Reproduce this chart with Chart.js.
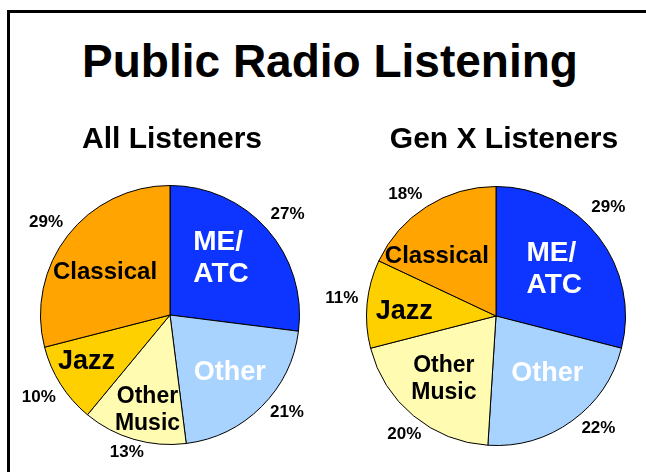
<!DOCTYPE html>
<html>
<head>
<meta charset="utf-8">
<script src="https://cdn.jsdelivr.net/npm/chart.js@4"></script>
<style>
    html, body { margin: 0; padding: 0; background: #fff; overflow: hidden; }
    #page { position: relative; width: 646px; height: 472px; overflow: hidden; background: #fff; }
    .rule { position: absolute; background: #000; }
    #ruleTop { left: 7px; top: 10px; width: 639px; height: 3px; }
    #ruleLeft { left: 7px; top: 10px; width: 3px; height: 462px; }
    #mainTitle {
        position: absolute; left: 7px; top: 38px; width: 646px; text-align: center; white-space: nowrap;
        font: bold 46px "Liberation Sans", Arial, Helvetica, sans-serif; line-height: 46px; color: #000;
    }
    canvas { position: absolute; top: 110px; }
    #allChart { left: 0; }
    #genxChart { left: 323px; }
</style>
</head>
<body>
<div id="page">
    <div class="rule" id="ruleTop"></div>
    <div class="rule" id="ruleLeft"></div>
    <div id="mainTitle">Public Radio Listening</div>
    <canvas id="allChart" width="323" height="362"></canvas>
    <canvas id="genxChart" width="323" height="362"></canvas>
</div>
<script>
const categories = ["ME/ATC", "Other", "Other Music", "Jazz", "Classical"];
const sliceLabels = [["ME/", "ATC"], ["Other"], ["Other", "Music"], ["Jazz"], ["Classical"]];
const allListeners = [27, 21, 13, 10, 29];
const genXListeners = [29, 22, 20, 11, 18];
const chartTitles = ["All Listeners", "Gen X Listeners"];

const sliceColors = ["#0D35FF", "#A9D3FF", "#FFFBB1", "#FFD000", "#FFA400"];
const FONT = '"Liberation Sans", Arial, Helvetica, sans-serif';

// per category text look
const labelLook = [
    { color: "#fff", size: 28, lineGap: 32, align: "left" },
    { color: "#fff", size: 27, lineGap: 0, align: "center" },
    { color: "#000", size: 23, lineGap: 27.5, align: "center" },
    { color: "#000", size: 27, lineGap: 0, align: "center" },
    { color: "#000", size: 24, lineGap: 0, align: "center" }
];

// label placement relative to each arc (radius fraction, degree shift from mid angle)
const placeAll = {
    inner: [0.60, 0.63, 0.74, 0.73, 0.61], innerShift: [-7.6, -2.2, -2.6, 4.4, -3.1],
    outer: [1.205, 1.167, 1.098, 1.189, 1.2], outerShift: [0.3, -5.7, 1.5, 0.8, -0.7],
    titleDx: 2
};
const placeGenX = {
    inner: [0.59, 0.58, 0.62, 0.71, 0.66], innerShift: [-2.5, -7.1, 0.9, -1.4, -11.4],
    outer: [1.212, 1.164, 1.145, 1.199, 1.183], outerShift: [-6.5, -6.8, -1.4, 1.6, -3.9],
    titleDx: 8
};

const pieText = {
    id: "pieText",
    afterDatasetsDraw(chart, args, opts) {
        const ctx = chart.ctx;
        const place = opts.place;
        const values = chart.data.datasets[0].data;
        const meta = chart.getDatasetMeta(0);
        ctx.save();
        meta.data.forEach((arc, i) => {
            const { x, y, startAngle, endAngle, outerRadius } = arc.getProps(["x", "y", "startAngle", "endAngle", "outerRadius"], true);
            const mid = (startAngle + endAngle) / 2;

            // label inside the slice
            const look = labelLook[i];
            const a1 = mid + place.innerShift[i] * Math.PI / 180;
            const cx = x + Math.cos(a1) * outerRadius * place.inner[i];
            const cy = y + Math.sin(a1) * outerRadius * place.inner[i];
            const lines = sliceLabels[i];
            ctx.font = "bold " + look.size + "px " + FONT;
            ctx.fillStyle = look.color;
            ctx.textBaseline = "alphabetic";
            const widest = Math.max(...lines.map(l => ctx.measureText(l).width));
            let by = cy + 0.358 * look.size - (lines.length - 1) * look.lineGap / 2;
            lines.forEach(line => {
                if (look.align === "left") {
                    ctx.textAlign = "left";
                    ctx.fillText(line, cx - widest / 2, by);
                } else {
                    ctx.textAlign = "center";
                    ctx.fillText(line, cx, by);
                }
                by += look.lineGap;
            });

            // percentage outside
            const a2 = mid + place.outerShift[i] * Math.PI / 180;
            const px = x + Math.cos(a2) * outerRadius * place.outer[i];
            const py = y + Math.sin(a2) * outerRadius * place.outer[i];
            ctx.font = "bold 17px " + FONT;
            ctx.fillStyle = "#000";
            ctx.textAlign = "center";
            ctx.fillText(values[i] + "%", px, py + 0.358 * 17);
        });

        // sub title above the pie
        ctx.font = "bold 30px " + FONT;
        ctx.fillStyle = "#000";
        ctx.textAlign = "center";
        ctx.fillText(opts.title, (chart.chartArea.left + chart.chartArea.right) / 2 + place.titleDx, 38.3);
        ctx.restore();
    }
};

function makePie(id, values, title, place, padding) {
    return new Chart(document.getElementById(id), {
        type: "pie",
        data: {
            labels: categories,
            datasets: [{
                data: values,
                backgroundColor: sliceColors,
                borderColor: "#000",
                borderWidth: 1
            }]
        },
        options: {
            responsive: false,
            animation: false,
            layout: { padding: padding },
            plugins: {
                legend: { display: false },
                tooltip: { enabled: false },
                pieText: { place: place, title: title }
            }
        },
        plugins: [pieText]
    });
}

makePie("allChart", allListeners, chartTitles[0], placeAll, { left: 40, top: 75, right: 23, bottom: 27 });
makePie("genxChart", genXListeners, chartTitles[1], placeGenX, { left: 43, top: 76, right: 20, bottom: 26 });
</script>
</body>
</html>
